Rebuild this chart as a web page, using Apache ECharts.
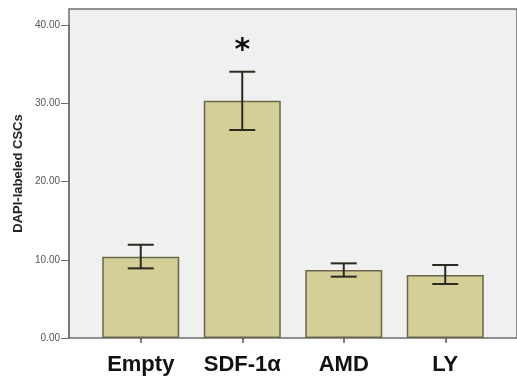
<!DOCTYPE html>
<html><head><meta charset="utf-8">
<script src="https://cdn.jsdelivr.net/npm/echarts@6/dist/echarts.min.js"></script>
<style>html,body{margin:0;padding:0;background:#fff}#c{width:517px;height:378px}</style>
</head><body><div id="c"></div>
<script>
const categories = ['Empty', 'SDF-1α', 'AMD', 'LY'];
const means = [10.39, 30.33, 8.69, 8.05];
const errLow = [8.90, 26.58, 7.84, 6.90];
const errHigh = [11.92, 34.03, 9.54, 9.33];
const yTicks = [0, 10, 20, 30, 40];
const marks = ['', '*', '', ''];

const chart = echarts.init(document.getElementById('c'));
chart.setOption({
  animation: false,
  backgroundColor: '#ffffff',
  grid: [
    {left: 69, right: -2, top: 9, bottom: 40, show: true, backgroundColor: '#f0f0f0', borderColor: '#6e6e6e', borderWidth: 1.5},
    {left: 90, right: 21, top: 25, bottom: 40}
  ],
  xAxis: [
    {gridIndex: 0, type: 'value', show: false, min: 0, max: 1},
    {gridIndex: 1, type: 'category', data: categories,
     axisLine: {show: false},
     axisTick: {show: true, alignWithLabel: true, length: 5, lineStyle: {color: '#555', width: 1.5}},
     axisLabel: {margin: 16, fontFamily: 'Liberation Sans, Arial', fontWeight: 'bold', fontSize: 22, color: '#111'}}
  ],
  yAxis: [
    {gridIndex: 0, type: 'value', min: 0, max: 1, axisLine: {show: false}, axisTick: {show: false}, axisLabel: {show: false}, splitLine: {show: false},
     name: 'DAPI-labeled CSCs', nameLocation: 'middle', nameGap: 44,
     nameTextStyle: {fontFamily: 'Liberation Sans, Arial', fontWeight: 'bold', fontSize: 13, color: '#222'}},
    {gridIndex: 1, type: 'value', min: 0, max: 40, interval: 10, offset: 21,
     axisLine: {show: true, lineStyle: {color: '#6e6e6e', width: 1.5}},
     axisTick: {show: true, length: 8, lineStyle: {color: '#6e6e6e'}},
     splitLine: {show: false},
     axisLabel: {margin: 9, fontFamily: 'Liberation Sans, Arial', fontSize: 10, color: '#555', formatter: v => v.toFixed(2)}}
  ],
  series: [
    {type: 'bar', xAxisIndex: 1, yAxisIndex: 1, data: means, barWidth: 77,
     itemStyle: {color: '#d4cf97', borderColor: '#6a6648', borderWidth: 1.5},
     label: {show: true, position: 'top', distance: 34, formatter: p => marks[p.dataIndex], fontSize: 30, fontWeight: 'bold', color: '#111', fontFamily: 'DejaVu Sans'}},
    {type: 'custom', xAxisIndex: 1, yAxisIndex: 1, z: 5,
     data: categories.map((c, i) => [i, errLow[i], errHigh[i]]),
     renderItem: function (params, api) {
       const lo = api.coord([api.value(0), api.value(1)]);
       const hi = api.coord([api.value(0), api.value(2)]);
       const hw = 13;
       const st = {stroke: '#2a2a1e', lineWidth: 2};
       return {type: 'group', children: [
         {type: 'line', shape: {x1: hi[0], y1: hi[1], x2: lo[0], y2: lo[1]}, style: st},
         {type: 'line', shape: {x1: hi[0] - hw, y1: hi[1], x2: hi[0] + hw, y2: hi[1]}, style: st},
         {type: 'line', shape: {x1: lo[0] - hw, y1: lo[1], x2: lo[0] + hw, y2: lo[1]}, style: st}
       ]};
     }}
  ]
});
</script></body></html>
